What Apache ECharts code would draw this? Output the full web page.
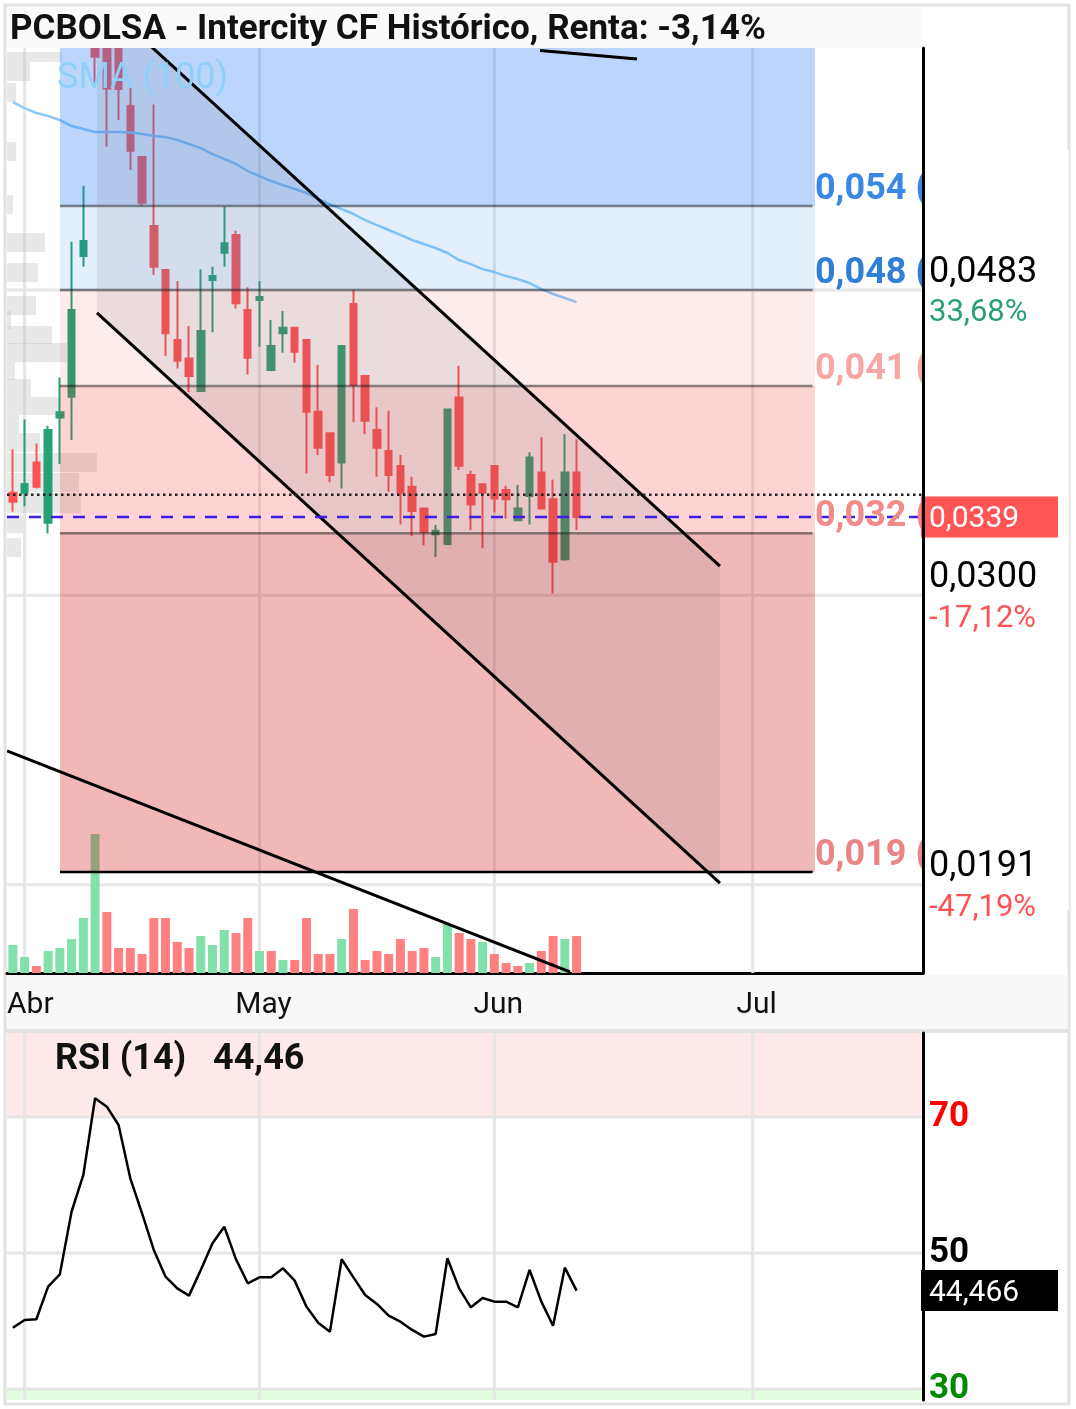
<!DOCTYPE html>
<html>
<head>
<meta charset="utf-8">
<script src="https://cdn.jsdelivr.net/npm/echarts@6.0.0/dist/echarts.min.js"></script>
<style>
html, body { margin: 0; padding: 0; background: #fff; }
#grafico { width: 1076px; height: 1409px; }
</style>
</head>
<body>
<div id="grafico"></div>
<script>
// Velas diarias (índice 0 = último día de marzo)
const aperturas = [0.0352, 0.0352, 0.0369, 0.03359, 0.03959, 0.04089, 0.05093, 0.07134, 0.071, 0.0706,
  0.06435, 0.05943, 0.05337, 0.04983, 0.04468, 0.04341, 0.04126, 0.04906, 0.05119, 0.05263,
  0.04682, 0.04755, 0.04263, 0.04515, 0.04554, 0.04468, 0.03994, 0.03862, 0.0369, 0.04725,
  0.04223, 0.03882, 0.03757, 0.0367, 0.03553, 0.03435, 0.033, 0.0325, 0.04085, 0.03619,
  0.03567, 0.0367, 0.03535, 0.03373, 0.03502, 0.03634, 0.03485, 0.03174, 0.03634]
const cierres = [0.03471, 0.03569, 0.03553, 0.03882, 0.03991, 0.04682, 0.05214, 0.0695, 0.06615, 0.0661,
  0.06002, 0.05535, 0.05008, 0.04515, 0.04325, 0.04223, 0.04531, 0.04936, 0.05195, 0.04731,
  0.04345, 0.04777, 0.04426, 0.04554, 0.04386, 0.03994, 0.03776, 0.03619, 0.04426, 0.04164,
  0.03939, 0.03776, 0.03619, 0.0352, 0.03422, 0.03312, 0.03318, 0.04009, 0.03672, 0.03457,
  0.0352, 0.03489, 0.03485, 0.03435, 0.0372, 0.03435, 0.03161, 0.03634, 0.0339]
const minimos = [0.03417, 0.03447, 0.03544, 0.03304, 0.03682, 0.03822, 0.05008, 0.06632, 0.06039, 0.06297,
  0.05824, 0.05509, 0.04944, 0.04357, 0.04274, 0.04119, 0.04119, 0.04522, 0.05008, 0.04693,
  0.04234, 0.04421, 0.04258, 0.0438, 0.04314, 0.03628, 0.03734, 0.03578, 0.03544, 0.03929,
  0.03856, 0.03609, 0.03526, 0.0335, 0.0329, 0.03244, 0.03185, 0.03244, 0.03647, 0.03321,
  0.03228, 0.03414, 0.03382, 0.03369, 0.0335, 0.0343, 0.03008, 0.03166, 0.03321]
const maximos = [0.03767, 0.03947, 0.03802, 0.03908, 0.04214, 0.05208, 0.05683, 0.07246, 0.0722, 0.0712,
  0.06667, 0.0595, 0.06452, 0.0499, 0.04898, 0.04566, 0.04988, 0.05008, 0.055, 0.05298,
  0.0485, 0.04898, 0.04609, 0.04675, 0.04554, 0.04468, 0.04296, 0.03862, 0.04426, 0.0483,
  0.04223, 0.04022, 0.04001, 0.03734, 0.03609, 0.03435, 0.03347, 0.04009, 0.04292, 0.03643,
  0.03567, 0.0367, 0.03559, 0.03563, 0.0375, 0.03838, 0.03594, 0.03856, 0.03826]
const volumenes = [28, 16, 7, 22, 25, 34, 55, 139, 61, 25, 25, 19, 55, 55, 31, 25, 37, 28, 43, 40,
  55, 22, 22, 13, 13, 55, 19, 19, 34, 64, 13, 22, 19, 34, 22, 25, 16, 49, 40, 34,
  31, 19, 10, 7, 10, 22, 37, 34, 37]
const sma100 = [0.06476, 0.06415, 0.06366, 0.06336, 0.06297, 0.06238, 0.06209, 0.0618, 0.0618, 0.0618,
  0.06175, 0.0616, 0.06141, 0.06131, 0.06103, 0.06065, 0.06027, 0.05971, 0.05925, 0.05879,
  0.05815, 0.05769, 0.05725, 0.05689, 0.05654, 0.05619, 0.05566, 0.05523, 0.0548, 0.05438,
  0.05387, 0.05345, 0.05304, 0.05263, 0.05222, 0.05189, 0.05157, 0.05117, 0.05061, 0.05029,
  0.0499, 0.04967, 0.04936, 0.04913, 0.04883, 0.04837, 0.048, 0.0477, 0.0474]
const rsi14 = [39.0, 40.15, 40.25, 45.05, 46.86, 56.08, 61.47, 72.75, 71.52, 68.82,
  60.98, 55.83, 50.44, 46.52, 44.8, 43.73, 47.5, 51.42, 53.87, 49.07,
  45.54, 46.42, 46.42, 47.75, 45.93, 42.11, 39.75, 38.43, 49.07, 46.42,
  43.82, 42.5, 40.78, 39.9, 38.68, 37.7, 38.09, 49.22, 44.8, 42.01,
  43.38, 42.84, 42.84, 42.01, 47.5, 42.84, 39.31, 47.84, 44.47]

// Meses del eje horizontal (índice del primer día hábil)
const meses = ['Abr', 'May', 'Jun', 'Jul']
const inicioMes = [1, 21, 41, 63]

// Retroceso de Fibonacci
const nivelesFib = [0.05506, 0.0483, 0.04158, 0.03305, 0.01948]
const textosFib = ['0,054 (', '0,048 (', '0,041 (', '0,032 (', '0,019 (']
const fibDesde = 4.01
const fibHasta = 68.3
const fibLineaHasta = 68.1

// Marcas del eje de precios
const preciosEje = [0.0483, 0.03, 0.0191]
const textosPrecio = ['0,0483', '0,0300', '0,0191']
const textosRenta = ['33,68%', '-17,12%', '-47,19%']

const precioActual = 0.0339
const cierreAnterior = 0.0351
const rsiActual = 44.466
const nivelesRsi = [70, 50, 30]

// Líneas de tendencia y canal: [índice, precio]
const canalSuperior = [[7.16, 0.07629], [60.21, 0.0314]]
const canalInferior = [[7.16, 0.0466], [60.21, 0.01915]]
const tendenciaBaja = [[-0.5, 0.02353], [47.44, 0.01667]]
const tendenciaAlta = [[44.89, 0.07018], [53.14, 0.06925]]

// Perfil de volumen a la izquierda: [precio alto, precio bajo, longitud en días]
const perfilAlto = [0.07001, 0.06893, 0.06671, 0.06084, 0.05601, 0.05279, 0.05037, 0.04785, 0.04675, 0.04566,
  0.04447, 0.04316, 0.04204, 0.04087, 0.03974, 0.03864, 0.03745, 0.0363, 0.03519, 0.03399, 0.0328]
const perfilBajo = [0.06893, 0.06692, 0.06476, 0.05907, 0.05438, 0.05125, 0.04891, 0.04645, 0.04545, 0.0444,
  0.04316, 0.04197, 0.04087, 0.03974, 0.03864, 0.03751, 0.03636, 0.03524, 0.0341, 0.03305, 0.03184]
const perfilLargo = [4.68, 1.96, 0.77, 0.77, 0.51, 3.24, 2.64, 2.47, 0.34, 3.83,
  5.11, 0.68, 2.04, 4.51, 1.02, 2.81, 7.66, 6.13, 6.3, 1.36, 1.19]

const precioMin = 0.016642
const precioMax = 0.070454
const rsiMin = 28.38
const rsiMax = 82.35
const xMin = -0.5
const xMax = 77.5

const verde = '#26a074'
const rojo = '#ff5252'
const verdeVolumen = '#82e0aa'
const rojoVolumen = '#ff8080'
const grisRejilla = '#e6e6e6'
const coloresZonaFib = ['rgba(33,120,243,0.3)', 'rgba(33,120,243,0.12)', 'rgba(247,40,40,0.09)',
  'rgba(247,40,40,0.2)', 'rgba(204,0,0,0.28)']
const coloresLineaFib = ['rgba(0,0,0,0.45)', 'rgba(0,0,0,0.45)', 'rgba(0,0,0,0.45)', 'rgba(0,0,0,0.45)', '#000']
const coloresTextoFib = ['#3a88e6', '#2f7fd8', '#f7a6a6', '#f28a8a', '#e98585']
const coloresRenta = ['#26a074', '#ff5252', '#ff5252']
const coloresRsi = ['#ff0000', '#000000', '#008a00']

const grafico = echarts.init(document.getElementById('grafico'))

function linea(x1, y1, x2, y2, color, ancho, trazo) {
  const estilo = { stroke: color, lineWidth: ancho }
  if (trazo) estilo.lineDash = trazo
  return { type: 'line', shape: { x1, y1, x2, y2 }, style: estilo }
}

function dibujarRejillaPrecio(params, api) {
  const caja = params.coordSys
  const hijos = []
  for (const precio of preciosEje) {
    const y = api.coord([0, precio])[1]
    hijos.push(linea(caja.x, y, caja.x + caja.width, y, grisRejilla, 3))
  }
  for (const dia of inicioMes) {
    const x = api.coord([dia, precioActual])[0]
    hijos.push(linea(x, caja.y, x, caja.y + caja.height, grisRejilla, 3))
  }
  return { type: 'group', children: hijos }
}

function dibujarPerfil(params, api) {
  const hijos = perfilAlto.map((alto, k) => {
    const a = api.coord([xMin, alto])
    const b = api.coord([xMin + perfilLargo[k], perfilBajo[k]])
    return {
      type: 'rect',
      shape: { x: a[0], y: a[1], width: b[0] - a[0], height: b[1] - a[1] },
      style: { fill: 'rgba(190,190,190,0.35)' },
    }
  })
  return { type: 'group', children: hijos }
}

function dibujarFib(params, api) {
  const caja = params.coordSys
  const hijos = []
  nivelesFib.forEach((nivel, k) => {
    const arriba = k === 0 ? caja.y : api.coord([fibDesde, nivelesFib[k - 1]])[1]
    const izq = api.coord([fibDesde, nivel])
    const der = api.coord([fibHasta, nivel])
    hijos.push({
      type: 'rect',
      shape: { x: izq[0], y: arriba, width: der[0] - izq[0], height: izq[1] - arriba },
      style: { fill: coloresZonaFib[k] },
    })
  })
  nivelesFib.forEach((nivel, k) => {
    const a = api.coord([fibDesde, nivel])
    const b = api.coord([fibLineaHasta, nivel])
    hijos.push(linea(a[0], a[1], b[0], b[1], coloresLineaFib[k], 2.5))
  })
  return { type: 'group', children: hijos }
}

function dibujarCanal(params, api) {
  const puntos = [
    api.coord(canalSuperior[0]), api.coord(canalSuperior[1]),
    api.coord(canalInferior[1]), api.coord(canalInferior[0]),
  ]
  const hijos = [{ type: 'polygon', shape: { points: puntos }, style: { fill: 'rgba(120,123,134,0.15)' } }]
  for (const tramo of [canalSuperior, canalInferior, tendenciaBaja, tendenciaAlta]) {
    const a = api.coord(tramo[0])
    const b = api.coord(tramo[1])
    hijos.push(linea(a[0], a[1], b[0], b[1], '#000', 3))
  }
  return { type: 'group', children: hijos }
}

// Cierre anterior (punteado) y precio actual (discontinuo)
function dibujarReferencias(params, api) {
  const caja = params.coordSys
  const yAnterior = api.coord([0, cierreAnterior])[1]
  const yActual = api.coord([0, precioActual])[1]
  return {
    type: 'group',
    children: [
      linea(caja.x, yAnterior, caja.x + caja.width, yAnterior, '#222', 2.5, [2.5, 3.5]),
      linea(caja.x, yActual, caja.x + caja.width, yActual, '#3c1ee6', 2.5, [12, 10]),
    ],
  }
}

function dibujarRejillaRsi(params, api) {
  const caja = params.coordSys
  const y70 = api.coord([0, 70])[1]
  const y30 = api.coord([0, 30])[1]
  const hijos = [
    { type: 'rect', shape: { x: caja.x, y: caja.y, width: caja.width, height: y70 - caja.y }, style: { fill: '#fde9e9' } },
    { type: 'rect', shape: { x: caja.x, y: y30, width: caja.width, height: caja.y + caja.height - y30 }, style: { fill: '#e0fde0' } },
  ]
  for (const nivel of nivelesRsi) {
    const y = api.coord([0, nivel])[1]
    hijos.push(linea(caja.x, y, caja.x + caja.width, y, grisRejilla, 3))
  }
  for (const dia of inicioMes) {
    const x = api.coord([dia, 50])[0]
    hijos.push(linea(x, caja.y, x, caja.y + caja.height, grisRejilla, 3))
  }
  return { type: 'group', children: hijos }
}

const ejeOculto = {
  axisTick: { show: false },
  axisLabel: { show: false },
  splitLine: { show: false },
}

grafico.setOption({
  animation: false,
  textStyle: { fontFamily: 'Roboto' },
  grid: [
    { left: 7, top: 48, width: 916, height: 925 },
    { left: 7, top: 1033, width: 916, height: 367 },
  ],
  xAxis: [
    {
      gridIndex: 0, type: 'value', min: xMin, max: xMax, ...ejeOculto,
      axisLine: { show: true, onZero: false, lineStyle: { color: '#000', width: 3 } },
    },
    { gridIndex: 1, type: 'value', min: xMin, max: xMax, show: false },
  ],
  yAxis: [
    {
      gridIndex: 0, type: 'log', logBase: 10, min: precioMin, max: precioMax, position: 'right', z: 6,
      ...ejeOculto,
      axisLine: { show: true, onZero: false, lineStyle: { color: '#000', width: 3 } },
    },
    { gridIndex: 0, type: 'value', min: 0, max: 925, show: false },
    {
      gridIndex: 1, type: 'value', min: rsiMin, max: rsiMax, position: 'right', z: 6,
      ...ejeOculto,
      axisLine: { show: true, onZero: false, lineStyle: { color: '#000', width: 3 } },
    },
  ],
  series: [
    {
      type: 'custom', xAxisIndex: 0, yAxisIndex: 0, z: 1, silent: true,
      data: [[0, precioActual]], renderItem: dibujarRejillaPrecio,
    },
    {
      type: 'custom', xAxisIndex: 0, yAxisIndex: 0, z: 1.5, silent: true,
      data: [[0, precioActual]], renderItem: dibujarPerfil,
    },
    {
      type: 'bar', xAxisIndex: 0, yAxisIndex: 1, z: 1.5, silent: true, barWidth: 9,
      data: volumenes.map((v, i) => ({
        value: [i, v],
        itemStyle: { color: i === 0 || cierres[i] >= cierres[i - 1] ? verdeVolumen : rojoVolumen },
      })),
    },
    {
      type: 'candlestick', xAxisIndex: 0, yAxisIndex: 0, z: 2, silent: true, barWidth: 7,
      encode: { x: 0, y: [1, 2, 3, 4] },
      data: aperturas.map((apertura, i) => [i, apertura, cierres[i], minimos[i], maximos[i]]),
      itemStyle: { color: verde, color0: rojo, borderColor: verde, borderColor0: rojo, borderWidth: 2 },
    },
    {
      type: 'line', xAxisIndex: 0, yAxisIndex: 0, z: 2.5, silent: true, showSymbol: false,
      data: sma100.map((v, i) => [i, v]),
      lineStyle: { color: '#8ccaf8', width: 2.5 },
    },
    {
      type: 'custom', xAxisIndex: 0, yAxisIndex: 0, z: 3, silent: true,
      data: [[0, precioActual]], renderItem: dibujarFib,
    },
    {
      type: 'custom', xAxisIndex: 0, yAxisIndex: 0, z: 3.5, silent: true, clip: true,
      data: [[0, precioActual]], renderItem: dibujarCanal,
    },
    {
      type: 'custom', xAxisIndex: 0, yAxisIndex: 0, z: 3.6, silent: true,
      data: [[0, precioActual]], renderItem: dibujarReferencias,
    },
    {
      type: 'custom', xAxisIndex: 1, yAxisIndex: 2, z: 1, silent: true,
      data: [[0, 50]], renderItem: dibujarRejillaRsi,
    },
    {
      type: 'line', xAxisIndex: 1, yAxisIndex: 2, z: 2, silent: true, showSymbol: false,
      data: rsi14.map((v, i) => [i, v]),
      lineStyle: { color: '#000', width: 2.5 },
    },
  ],
})

const xDia = (i) => grafico.convertToPixel({ xAxisIndex: 0 }, i)
const yPrecio = (v) => grafico.convertToPixel({ yAxisIndex: 0 }, v)
const yRsi = (v) => grafico.convertToPixel({ yAxisIndex: 2 }, v)

// El centro de los textos queda unos píxeles alto con 'middle'
const ajuste = 3.5

function texto(x, y, contenido, fuente, color, z, alineado = 'left') {
  return {
    type: 'text', x, y: y + ajuste, z, silent: true,
    style: { text: contenido, font: fuente, fill: color, textAlign: alineado, textVerticalAlign: 'middle' },
  }
}

function caja(x, y, ancho, alto, color, z) {
  return { type: 'rect', z, silent: true, shape: { x, y, width: ancho, height: alto }, style: { fill: color } }
}

const elementos = [
  {
    type: 'rect', z: 0, silent: true,
    shape: { x: 5, y: 5, width: 1064, height: 1399 },
    style: { fill: 'rgba(0,0,0,0)', stroke: '#e2e2e2', lineWidth: 3 },
  },
  caja(7, 975, 1061, 54, '#f8f8f8', 0),
  caja(5, 1029, 1064, 4, '#e2e2e2', 0),
  caja(7, 7, 914, 41, '#fafafa', 10),
  texto(10, 27, 'PCBOLSA - Intercity CF Histórico, Renta: -3,14%', 'bold 35px Roboto', '#111', 11),
  texto(57, 75, 'SMA (100)', '36px Roboto', '#8fd0fa', 5),
  caja(923, 150, 146, 760, '#fff', 4),
  texto(55, 1056, 'RSI (14)', 'bold 36px Roboto', '#111', 5),
  texto(213, 1056, '44,46', 'bold 36px Roboto', '#111', 5),
]

nivelesFib.forEach((nivel, k) => {
  elementos.push(texto(xDia(fibHasta), yPrecio(nivel) - 20, textosFib[k], 'bold 36px Roboto', coloresTextoFib[k], 3.8))
})

preciosEje.forEach((precio, k) => {
  const y = yPrecio(precio)
  elementos.push(texto(929, y - 21, textosPrecio[k], '36px Roboto', '#000', 5))
  elementos.push(texto(929, y + 20, textosRenta[k], '31px Roboto', coloresRenta[k], 5))
})

const yActual = yPrecio(precioActual)
elementos.push(caja(921, yActual - 20.5, 137, 41, '#ff5555', 5))
elementos.push(texto(929, yActual - 1, '0,0339', '30px Roboto', '#fff', 5.5))

meses.forEach((mes, k) => {
  const x = xDia(inicioMes[k])
  if (x - 23 < 7) {
    elementos.push(texto(7, 1002, mes, '30px Roboto', '#111', 5))
  } else {
    elementos.push(texto(x + 4, 1002, mes, '30px Roboto', '#111', 5, 'center'))
  }
})

nivelesRsi.forEach((nivel, k) => {
  elementos.push(texto(929, yRsi(nivel) - 3, String(nivel), 'bold 35px Roboto', coloresRsi[k], 5))
})

const yRsiActual = yRsi(rsiActual)
elementos.push(caja(921, yRsiActual - 20.5, 137, 41, '#000', 5))
elementos.push(texto(929, yRsiActual - 1, '44,466', '30px Roboto', '#fff', 5.5))

grafico.setOption({ graphic: { elements: elementos } })
</script>
</body>
</html>
